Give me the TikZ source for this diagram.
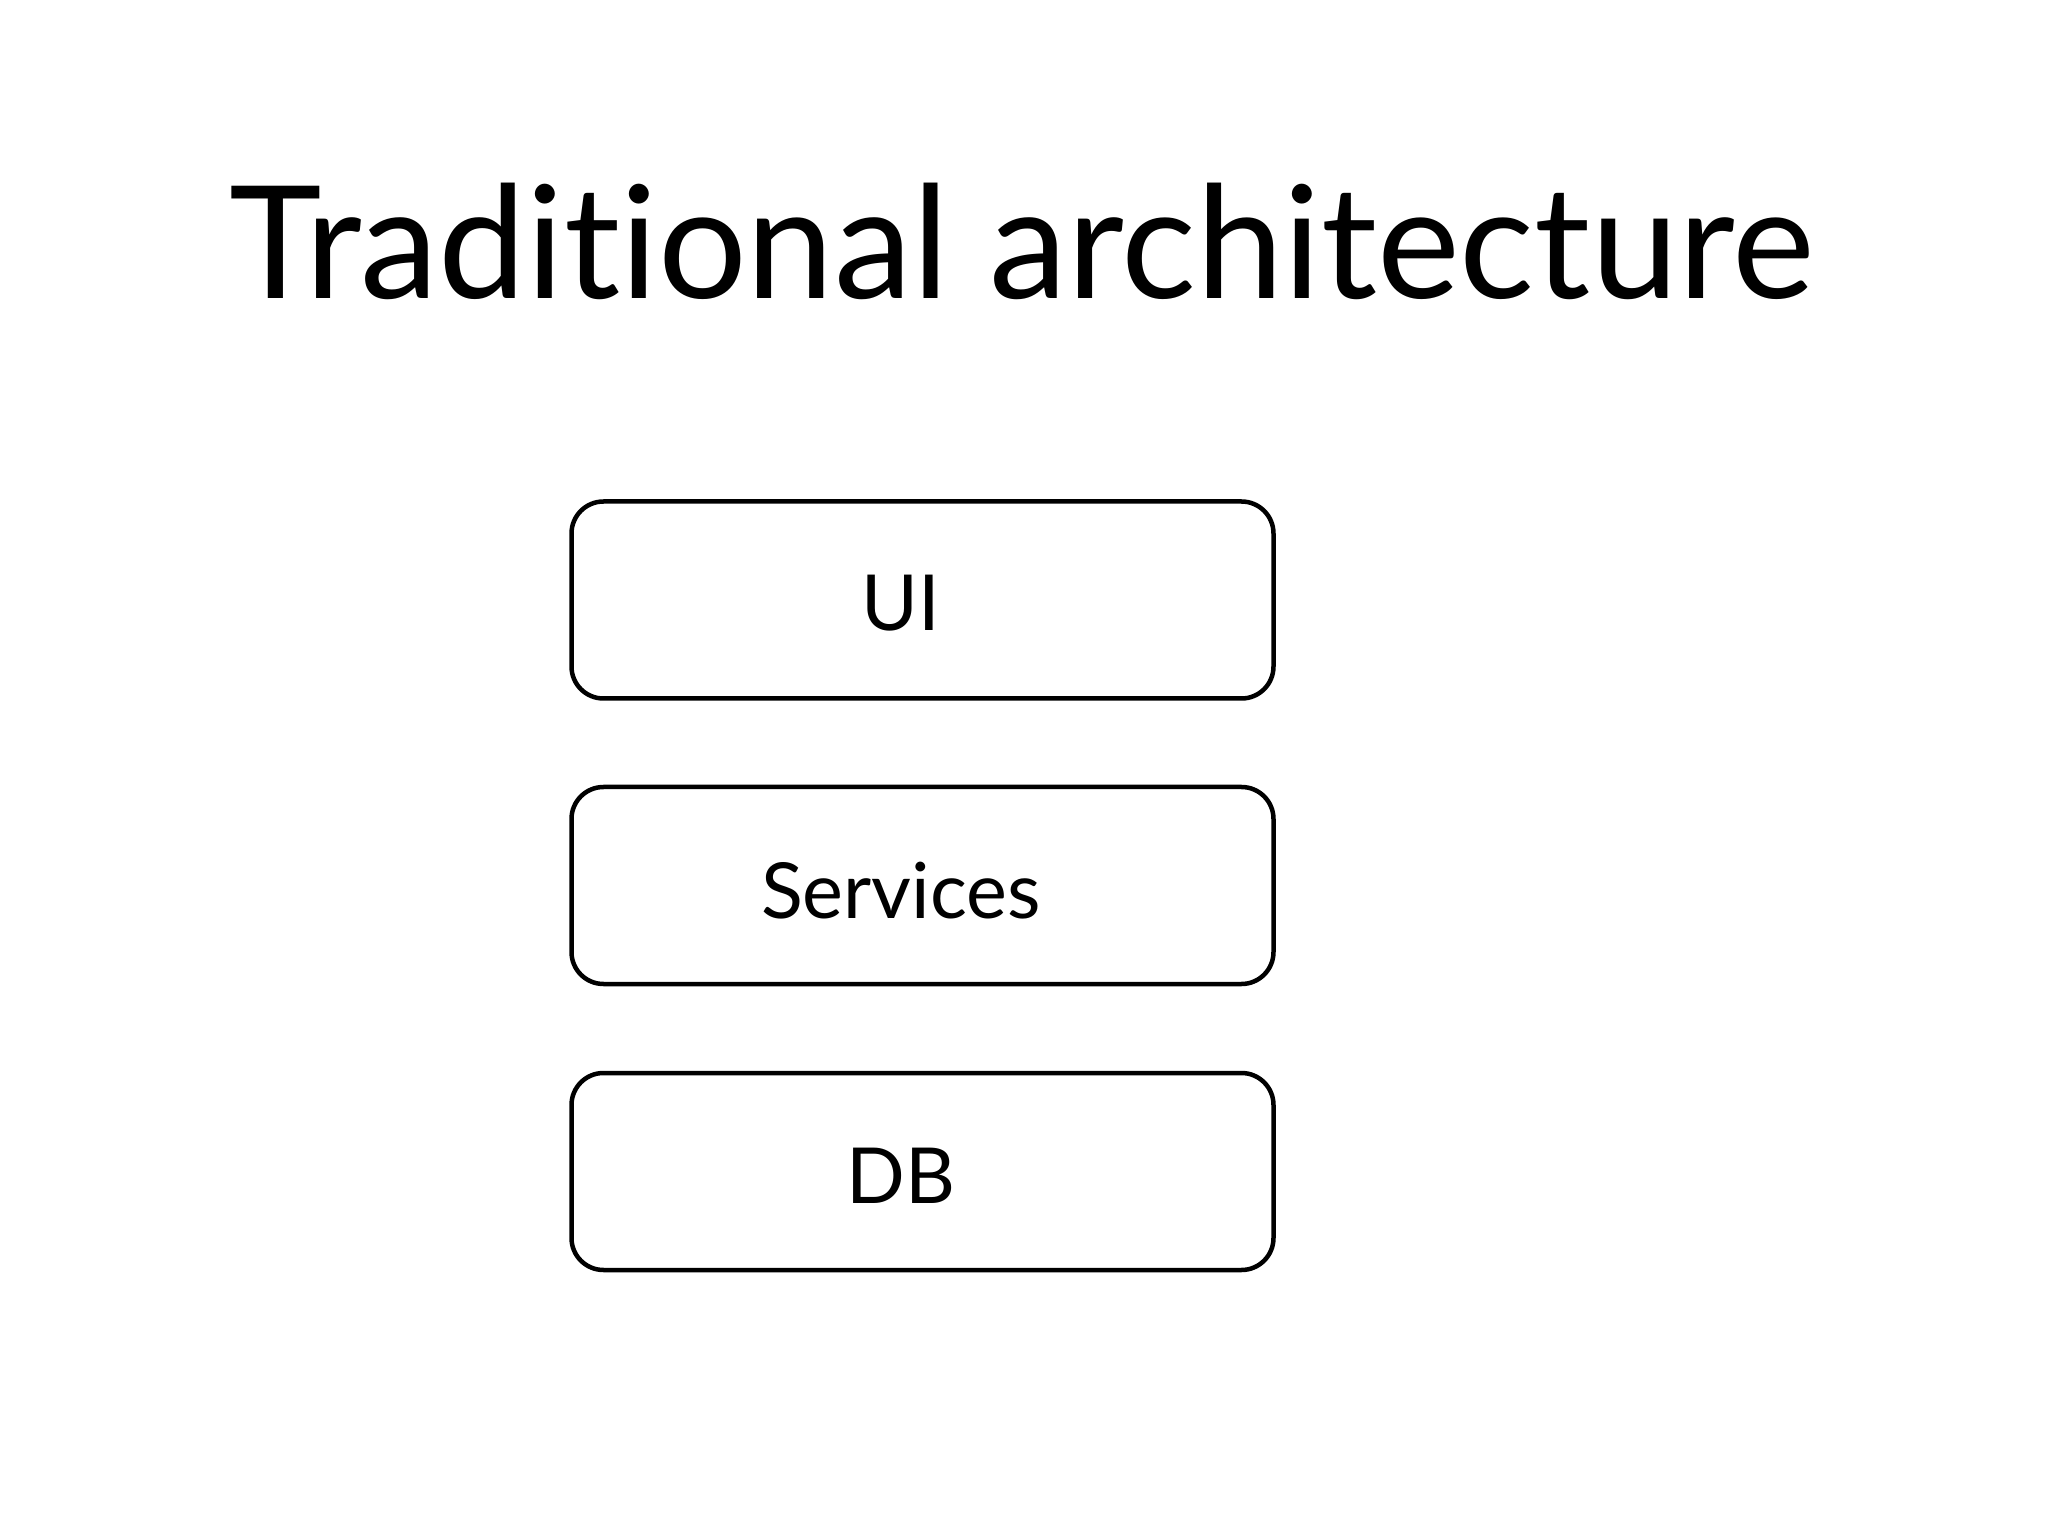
\documentclass[tikz,border=0pt]{standalone}
\usepackage{fontspec}
\setmainfont[Ligatures=NoCommon]{Lato}
\usepackage{tikz}
\tikzset{layer node/.style={rectangle,rounded corners=0.32cm,draw,line width=0.045cm,minimum width=7.02cm,minimum height=1.97cm,inner sep=0pt},
         layer text/.style={anchor=base,inner sep=0pt,font=\fontsize{22pt}{26pt}\selectfont},
            }
\begin{document}
\begin{tikzpicture}
	\useasboundingbox (0,0) rectangle (20.48,-15.36);
	\node[anchor=base,inner sep=0pt,font=\fontsize{44.6pt}{54pt}\selectfont] (title) at (10.22,-2.99) {Traditional architecture};

	\node[layer node] (UI) at (9.225,-6.00) {};
	\node[layer node] (S) at (9.225,-8.855) {};
	\node[layer node] (DB) at (9.225,-11.715) {};

	\node[layer text] (UIt) at (9.01,-6.31) {UI};
	\node[layer text] (St) at (9.01,-9.18) {Services};
	\node[layer text] (DBt) at (9.01,-12.04) {DB};
\end{tikzpicture}
\end{document}
